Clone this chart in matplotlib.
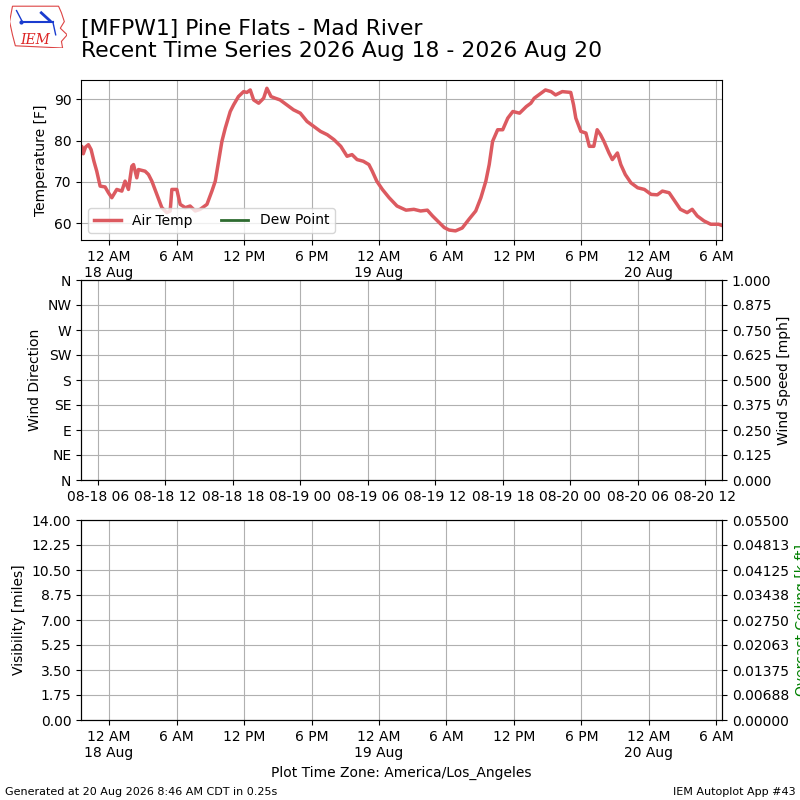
import datetime
import numpy as np
import matplotlib
matplotlib.use("Agg")
import matplotlib.pyplot as plt
import matplotlib.dates as mdates
from matplotlib.ticker import FormatStrFormatter, FuncFormatter
from matplotlib.patches import Polygon

# hours after 2026-08-18 00:00 local (PDT) and air temperature [F]
hours = [-2.5, -2.43, -2.3, -2.1, -1.84, -1.6, -1.35, -1.1, -0.8, -0.36, -0.06, 0.24,
         0.68, 1.13, 1.42, 1.72, 2.02, 2.17, 2.46, 2.61, 3.2, 3.5, 3.8, 4.24, 4.69,
         5.13, 5.43, 5.58, 6.02, 6.32, 6.77, 7.2, 7.66, 8.1, 8.7, 9.14, 9.44, 9.73,
         10.03, 10.33, 10.77, 11.07, 11.5, 11.96, 12.25, 12.55, 12.85, 13.3, 13.74,
         14.03, 14.4, 14.78, 15.2, 15.8, 16.4, 17.0, 17.6, 18.2, 18.8, 19.4, 20.0,
         20.6, 21.16, 21.6, 22.05, 22.6, 23.1, 23.4, 23.8, 24.3, 24.9, 25.6, 26.4,
         27.1, 27.7, 28.3, 28.76, 29.2, 29.8, 30.24, 30.8, 31.4, 32.0, 32.6, 33.06,
         33.5, 33.8, 34.1, 34.55, 35.0, 35.45, 35.9, 36.5, 37.1, 37.5, 37.8, 38.2,
         38.8, 39.3, 39.7, 40.3, 41.05, 41.3, 41.5, 41.95, 42.4, 42.7, 43.1, 43.4,
         43.7, 44.0, 44.45, 44.75, 45.2, 45.5, 45.9, 46.4, 47.0, 47.6, 48.2, 48.75,
         49.2, 49.8, 50.2, 50.8, 51.4, 51.85, 52.3, 52.9, 53.5, 54.2, 54.4]
temps = [78.0, 78.6, 76.8, 78.4, 79.0, 77.8, 75.0, 72.6, 69.0, 68.8, 67.4, 66.2,
         68.2, 67.8, 70.2, 68.2, 73.8, 74.2, 71.0, 73.0, 72.6, 71.8, 70.2, 67.0, 63.8,
         62.6, 63.0, 68.2, 68.2, 64.6, 63.8, 64.2, 63.0, 63.4, 64.6, 67.8, 70.2, 75.0,
         79.8, 83.0, 87.0, 88.6, 90.6, 91.8, 91.6, 92.2, 89.8, 89.0, 90.2,
         92.6, 90.6, 90.2, 89.8, 88.6, 87.4, 86.6, 84.6, 83.4, 82.2, 81.4, 80.2,
         78.6, 76.2, 76.6, 75.4, 75.0, 74.2, 72.6, 70.2, 68.2, 66.2, 64.2, 63.2,
         63.4, 63.0, 63.2, 61.8, 60.6, 59.0, 58.4, 58.2, 58.9, 61.0, 63.0, 66.2,
         70.2, 74.2, 79.8, 82.6, 82.6, 85.4, 87.0, 86.6, 88.2, 89.0, 90.2, 91.0,
         92.2, 91.8, 91.0, 91.8, 91.6, 88.6, 85.4, 82.2, 81.8, 78.6, 78.6, 82.6,
         81.4, 79.8, 77.0, 75.4, 77.0, 74.2, 71.8, 69.8, 68.6, 68.2, 67.0, 66.9,
         67.8, 67.4, 65.8, 63.4, 62.6, 63.4, 61.8, 60.6, 59.8, 59.8, 59.6]

dir_labels = ["N", "NE", "E", "SE", "S", "SW", "W", "NW", "N"]
dir_ticks = [0, 45, 90, 135, 180, 225, 270, 315, 360]
speed_ticks = [0, 0.125, 0.25, 0.375, 0.5, 0.625, 0.75, 0.875, 1.0]
vis_ticks = [0, 1.75, 3.5, 5.25, 7.0, 8.75, 10.5, 12.25, 14.0]
ceil_ticks = [0, 0.006875, 0.01375, 0.020625, 0.0275, 0.034375, 0.04125, 0.048125, 0.055]

PDT = datetime.timezone(datetime.timedelta(hours=-7))
UTC = datetime.timezone.utc
base = datetime.datetime(2026, 8, 18, 0, 0, tzinfo=PDT)
times = [base + datetime.timedelta(hours=h) for h in hours]
xmin = base + datetime.timedelta(hours=-2.5)
xmax = base + datetime.timedelta(hours=54.5)


def local_fmt(x, pos=None):
    d = mdates.num2date(x, tz=PDT)
    h12 = d.hour % 12 or 12
    ampm = "AM" if d.hour < 12 else "PM"
    if d.hour == 0:
        return f"12 AM\n{d.day} Aug"
    return f"{h12} {ampm}"


def local_axis(ax):
    ax.set_xlim(xmin, xmax)
    ax.xaxis.set_major_locator(mdates.HourLocator(byhour=[0, 6, 12, 18], tz=PDT))
    ax.xaxis.set_major_formatter(FuncFormatter(local_fmt))


fig = plt.figure(figsize=(8, 8), dpi=100)

# top: temperature
ax1 = fig.add_axes([0.10125, 0.70, 0.80125, 0.20])
ax1.plot(times, temps, color="#dc5a60", lw=2.5, label="Air Temp")
ax1.plot([], [], color="#2e6b30", lw=2, label="Dew Point")
local_axis(ax1)
ax1.set_ylim(56.0, 94.6)
ax1.set_yticks([60, 70, 80, 90])
ax1.grid(True)
ax1.set_ylabel("Temperature [F]")
ax1.legend(loc="lower left", ncol=2)

# middle: wind
ax2 = fig.add_axes([0.10125, 0.40, 0.80125, 0.25])
ax2.set_xlim(xmin, xmax)
ax2.set_ylim(0, 360)
ax2.set_yticks(dir_ticks)
ax2.set_yticklabels(dir_labels)
ax2.xaxis.set_major_locator(mdates.HourLocator(byhour=[0, 6, 12, 18], tz=UTC))
ax2.xaxis.set_major_formatter(mdates.DateFormatter("%m-%d %H", tz=UTC))
ax2.grid(True)
ax2.set_ylabel("Wind Direction")
ax2b = ax2.twinx()
ax2b.set_ylim(0, 1)
ax2b.set_yticks(speed_ticks)
ax2b.yaxis.set_major_formatter(FormatStrFormatter("%.3f"))
ax2b.set_ylabel("Wind Speed [mph]")

# bottom: visibility / ceiling
ax3 = fig.add_axes([0.10125, 0.10, 0.80125, 0.25])
local_axis(ax3)
ax3.set_ylim(0, 14)
ax3.set_yticks(vis_ticks)
ax3.yaxis.set_major_formatter(FormatStrFormatter("%.2f"))
ax3.grid(True)
ax3.set_ylabel("Visibility [miles]")
ax3.set_xlabel("Plot Time Zone: America/Los_Angeles")
ax3b = ax3.twinx()
ax3b.set_ylim(0, 0.055)
ax3b.set_yticks(ceil_ticks)
ax3b.yaxis.set_major_formatter(FormatStrFormatter("%.5f"))
ax3b.set_ylabel("Overcast Ceiling [k ft]", color="green")

fig.text(0.10125, 1 - 19 / 800, "[MFPW1] Pine Flats - Mad River\n"
         "Recent Time Series 2026 Aug 18 - 2026 Aug 20", fontsize=15.75, va="top",
         linespacing=1.12)
fig.text(0.006, 0.006, "Generated at 20 Aug 2026 8:46 AM CDT in 0.25s", fontsize=8)
fig.text(0.994, 0.006, "IEM Autoplot App #43", fontsize=8, ha="right")

# rough IEM logo
lg = fig.add_axes([0.012, 0.94, 0.072, 0.055])
lg.set_xlim(0, 1)
lg.set_ylim(0, 1)
lg.axis("off")
iowa = [(0.05, 0.95), (0.85, 0.95), (0.9, 0.8), (0.95, 0.6), (0.88, 0.45),
        (1.0, 0.3), (0.9, 0.15), (0.92, 0.0), (0.1, 0.05), (0.05, 0.3), (0.0, 0.6)]
lg.add_patch(Polygon(iowa, closed=True, fill=False, ec="#d44", lw=0.8))
lg.plot([0.22, 0.75], [0.6, 0.6], color="#1a3ccf", lw=1.5)
lg.plot([0.22, 0.12], [0.6, 0.85], color="#1a3ccf", lw=1)
lg.plot([0.55, 0.7], [0.8, 0.62], color="#1a3ccf", lw=2)
lg.plot([0.75, 0.8], [0.6, 0.3], color="#1a3ccf", lw=1)
lg.plot([0.2], [0.6], "o", color="#1a3ccf", ms=2)
lg.text(0.45, 0.18, "IEM", color="#d22", fontsize=10, style="italic",
        family="DejaVu Serif", ha="center", va="center")

fig.savefig("out.png", dpi=100)
